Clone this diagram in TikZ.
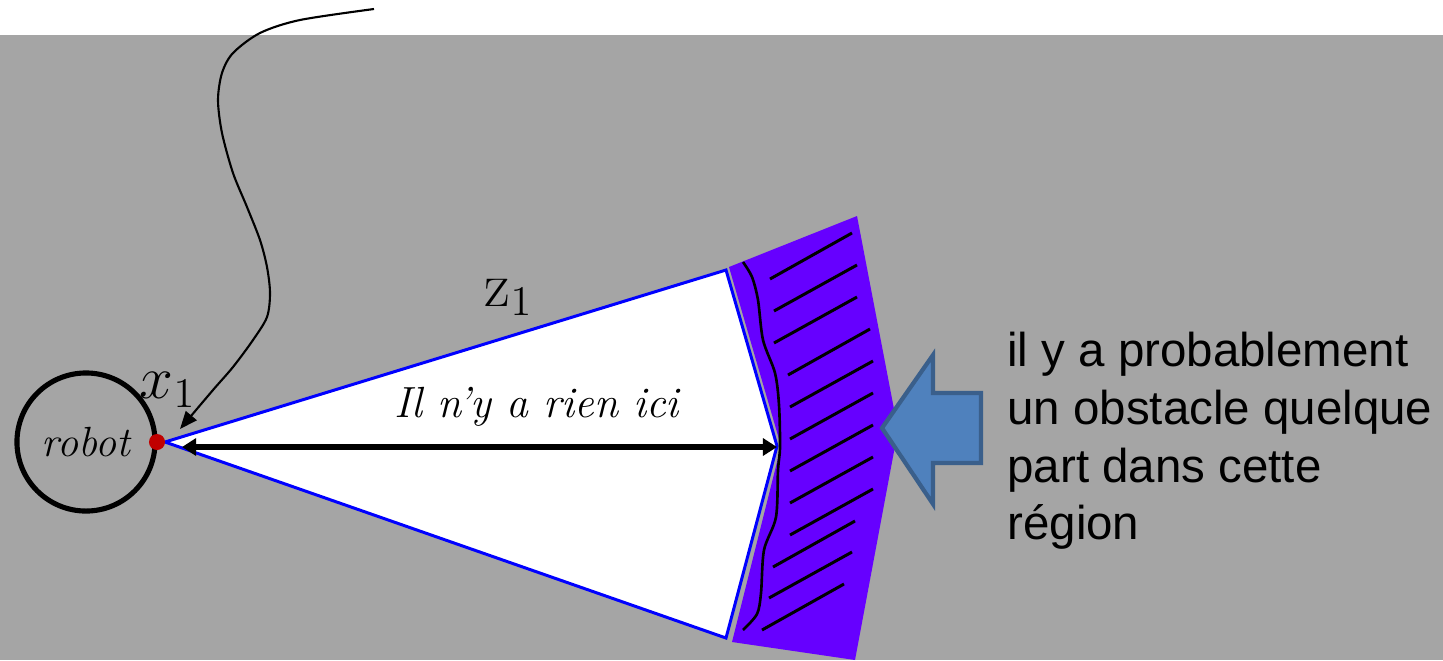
\documentclass[tikz,border=0pt]{standalone}
\usepackage{amsmath}
\usepackage{fontspec}
\newfontfamily\arialfont{Liberation Sans}
\usetikzlibrary{calc,arrows.meta}
\definecolor{fond}{HTML}{A5A5A5}
\definecolor{violet}{HTML}{6600FF}
\definecolor{fleche}{HTML}{4F81BD}
\definecolor{flechebord}{HTML}{3A5F8B}
\definecolor{rouge}{HTML}{C00000}

\begin{document}
\begin{tikzpicture}[x=0.01cm, y=-0.01cm, thick]
  \useasboundingbox (0,0) rectangle (1443,660);
  \fill[fond] (0,35) rectangle (1443,660);

  \coordinate (R) at (86,442);    % centre du robot
  \coordinate (X) at (157,442);   % capteur x_1
  \coordinate (A) at (165,442);
  \coordinate (B) at (726,270);
  \coordinate (C) at (777,446);
  \coordinate (D) at (726,638);

  % cone du capteur (rien ici)
  \draw[blue, line width=0.85pt, fill=white] (A) -- (B) -- (C) -- (D) -- cycle;

  % bande de l'obstacle
  \fill[violet] (729,267) -- (857,216) -- (898,430) -- (855,660)
    -- (732,642) -- (781,446) -- cycle;
  \draw[line width=0.75pt] plot[smooth] coordinates {(743,262) (752,277) (758,300)
    (763,340) (775,373) (779,405) (780,447) (778,470) (776,517) (764,550)
    (761,593) (757,614) (743,630)};
  \foreach \y/\xa/\xb in {279/770/852, 311/774/857, 343/774/857, 375/788/870,
      407/790/873, 439/790/873, 471/790/873, 503/790/873, 535/790/873,
      567/773/855, 598/769/852, 630/762/844}
    \draw[line width=0.85pt] (\xa,\y) -- (\xb,\y-46);

  % distance mesuree
  \coordinate (G) at (182,447);
  \coordinate (H) at (777,447);
  \draw[line width=1.45pt, {Triangle[length=4pt,width=4.8pt]}-{Triangle[length=4pt,width=4.8pt]}] (G) -- (H);

  % robot
  \draw[line width=1.45pt] (R) circle (0.69cm);
  \fill[rouge] (X) circle (0.08cm);

  % fleche courbe vers x_1
  \coordinate (T) at (374,9);
  \coordinate (K) at (180,429);
  \draw[line width=0.6pt, -{Triangle[length=5pt,width=4pt]}] plot[smooth] coordinates {(T) (300,20)
    (260,33) (233,53) (222,73) (218,100) (222,133) (233,173) (247,207)
    (260,240) (267,267) (270,293) (267,317) (253,340) (233,367) (213,390) (K)};

  % grosse fleche bleue
  \draw[flechebord, fill=fleche, line width=1.2pt] (882,428) -- (933,355) -- (933,393)
    -- (981,393) -- (981,463) -- (933,463) -- (933,504) -- cycle;

  \node at (R) {\fontsize{12}{14}\selectfont\itshape robot};
  \node at (168,390) {\fontsize{18}{20}\selectfont$x_1$};
  \node at (509,297) {\fontsize{18}{20}\selectfont$\mathrm{z}_1$};
  \node[anchor=base] at (537,417) {\fontsize{12.4}{14}\selectfont\itshape Il n’y a rien ici};
  \node[anchor=north west, inner sep=0pt, align=left,
    font=\arialfont\fontsize{13.5}{16.4}\selectfont] at (1006,331)
    {il y a probablement\\un obstacle quelque\\part dans cette\\région};
\end{tikzpicture}
\end{document}
